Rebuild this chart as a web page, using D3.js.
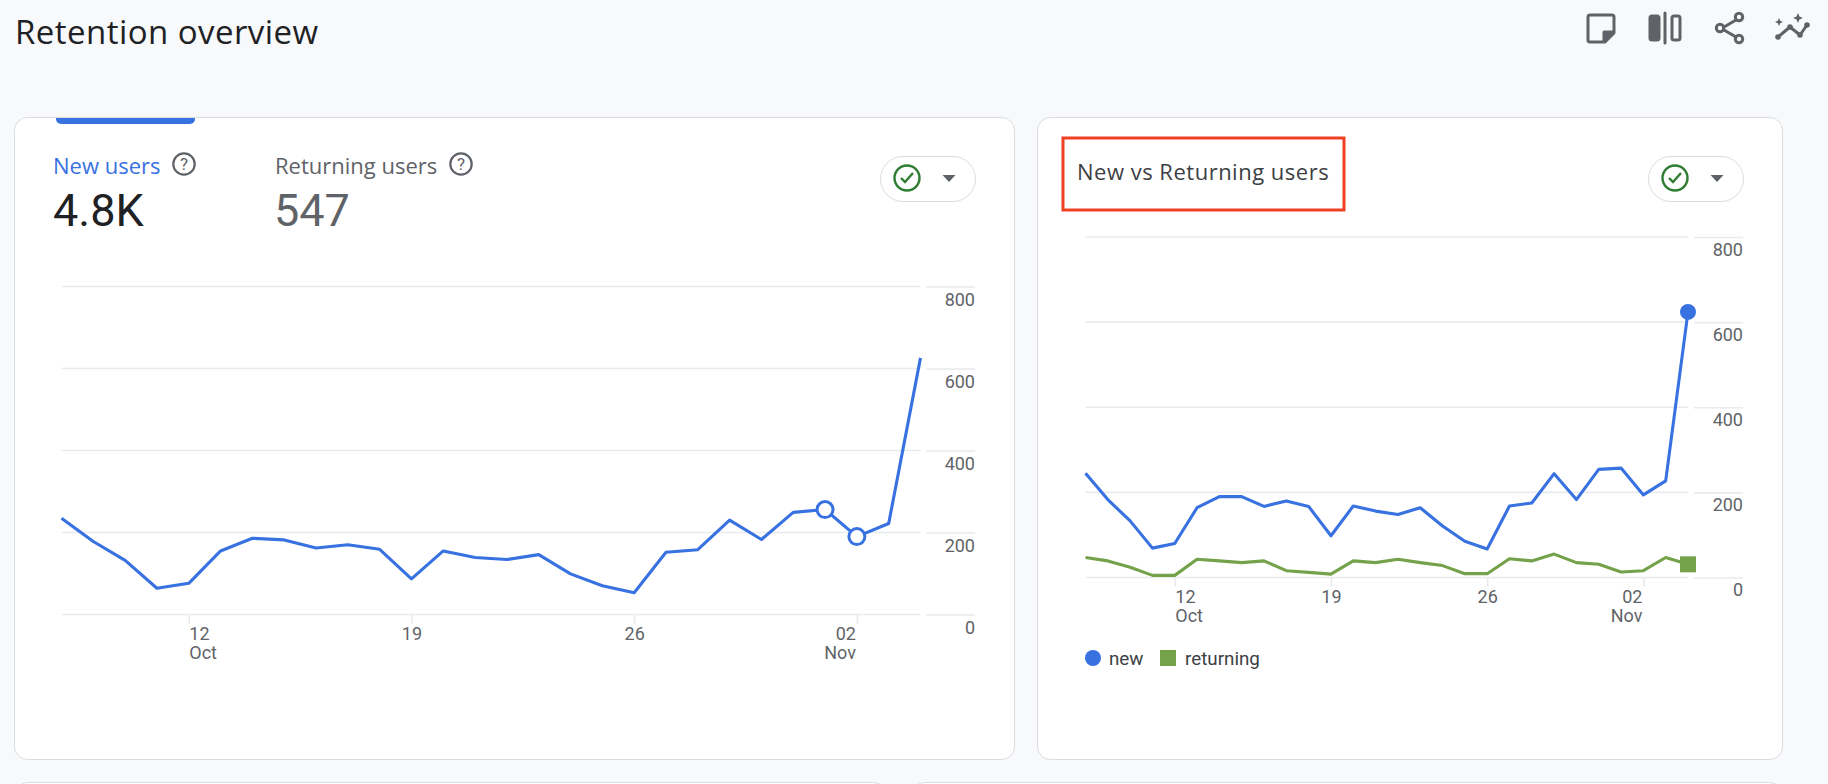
<!DOCTYPE html>
<html>
<head>
<meta charset="utf-8">
<title>Retention overview</title>
<script src="https://cdn.jsdelivr.net/npm/d3@7/dist/d3.min.js"></script>
<style>
  html, body { margin: 0; padding: 0; background: #f8f9fb; overflow: hidden; }
  svg { display: block; }
  text { font-family: Roboto, sans-serif; }
  .head { font-family: "Open Sans", Roboto, sans-serif; }
</style>
</head>
<body>
<svg id="page" width="1828" height="784"></svg>
<script>
// Daily series, 8 Oct to 4 Nov
const days = ["2025-10-08","2025-10-09","2025-10-10","2025-10-11","2025-10-12","2025-10-13","2025-10-14",
  "2025-10-15","2025-10-16","2025-10-17","2025-10-18","2025-10-19","2025-10-20","2025-10-21",
  "2025-10-22","2025-10-23","2025-10-24","2025-10-25","2025-10-26","2025-10-27","2025-10-28",
  "2025-10-29","2025-10-30","2025-10-31","2025-11-01","2025-11-02","2025-11-03","2025-11-04"];
const newUsersTrend = [235,178,132,64,76,155,186,182,162,170,159,87,155,139,134,146,99,70,53,152,158,230,183,249,256,190,222,626];
const newSeries = [245,183,133,69,80,164,190,190,167,180,167,98,168,156,148,164,121,85,67,168,175,244,183,254,257,194,227,624];
const returningSeries = [47,39,24,5,5,43,39,35,39,16,12,8,39,35,43,35,28,9,9,44,39,55,35,31,13,16,47,31];
const yTicks = [0,200,400,600,800];
const xTickDays = ["2025-10-12","2025-10-19","2025-10-26","2025-11-02"];
const xTickLabels = ["12","19","26","02"];
const xMonthLabels = ["Oct","","","Nov"];
const highlightedDays = ["2025-11-01","2025-11-02"];
const legendNames = ["new","returning"];

const BLUE = "#3871e0", GREEN = "#74a24a", GRID = "#e8eaed", INK = "#5f6368", DARK = "#202124";
const parse = d3.utcParse("%Y-%m-%d");
const svg = d3.select("#page");

// Cards
const cards = [
  [14,117,1000,642],[1037,117,745,642],[14,782,872,60],[911,782,871,60]
];
svg.selectAll("rect.card").data(cards).join("rect").attr("class","card")
  .attr("x",d=>d[0]+.5).attr("y",d=>d[1]+.5).attr("width",d=>d[2]).attr("height",d=>d[3])
  .attr("rx",13).attr("fill","#fff").attr("stroke","#dadce0");

// Page heading
svg.append("text").attr("class","head").attr("x",15).attr("y",44)
  .attr("font-size",33).attr("letter-spacing",.45).attr("fill",DARK).text("Retention overview");

// Toolbar icons
const tools = svg.append("g").attr("fill","none").attr("stroke",INK).attr("stroke-width",3)
  .attr("stroke-linejoin","round").attr("stroke-linecap","round");
tools.append("path").attr("d","M1605 42H1590a2 2 0 0 1-2-2V17a2 2 0 0 1 2-2H1612a2 2 0 0 1 2 2V33Z");
tools.append("path").attr("d","M1604 41V32H1613Z").attr("fill",INK);
tools.append("rect").attr("x",1650).attr("y",16).attr("width",9).attr("height",24).attr("rx",2).attr("fill",INK);
tools.append("path").attr("d","M1665 13V43");
tools.append("rect").attr("x",1672).attr("y",16).attr("width",8).attr("height",24).attr("rx",2);
tools.append("path").attr("d","M1736 20L1724 27M1724 30L1736 37");
[[1739,17],[1720,28],[1739,39]].forEach(c=>tools.append("circle").attr("cx",c[0]).attr("cy",c[1]).attr("r",3.7));
tools.append("path").attr("d","M1778 37L1790 27L1800 35L1807 25");
[[1778,37],[1790,27],[1800,35],[1807,25]].forEach(c=>tools.append("circle").attr("cx",c[0]).attr("cy",c[1]).attr("r",2.8).attr("fill",INK).attr("stroke","none"));
[[1779,22,4],[1798,18,5]].forEach(s=>tools.append("path")
  .attr("d",`M${s[0]} ${s[1]-s[2]}L${s[0]+s[2]*.3} ${s[1]-s[2]*.3}L${s[0]+s[2]} ${s[1]}L${s[0]+s[2]*.3} ${s[1]+s[2]*.3}L${s[0]} ${s[1]+s[2]}L${s[0]-s[2]*.3} ${s[1]+s[2]*.3}L${s[0]-s[2]} ${s[1]}L${s[0]-s[2]*.3} ${s[1]-s[2]*.3}Z`)
  .attr("fill",INK).attr("stroke","none"));

// Status pill with a check mark and a caret
function statusPill(x, w, checkX, caretX) {
  const g = svg.append("g");
  g.append("rect").attr("x",x+.5).attr("y",156.5).attr("width",w).attr("height",45).attr("rx",22.5)
    .attr("fill","#fff").attr("stroke","#dadce0");
  g.append("circle").attr("cx",checkX).attr("cy",178).attr("r",12.5).attr("fill","none")
    .attr("stroke","#2e7d32").attr("stroke-width",2.4);
  g.append("path").attr("d",`M${checkX-6} ${178}L${checkX-2} ${182}L${checkX+6} ${173}`)
    .attr("fill","none").attr("stroke","#2e7d32").attr("stroke-width",2.4);
  g.append("path").attr("d",`M${caretX-6.5} 175H${caretX+6.5}L${caretX} 182Z`).attr("fill",INK);
}
statusPill(880,95,907,949);
statusPill(1648,95,1675,1717);

// Help mark beside a scorecard label
function helpMark(cx, cy) {
  const g = svg.append("g");
  g.append("circle").attr("cx",cx).attr("cy",cy).attr("r",10.7).attr("fill","none")
    .attr("stroke",INK).attr("stroke-width",2.2);
  g.append("text").attr("x",cx).attr("y",cy+6).attr("text-anchor","middle")
    .attr("font-size",17).attr("fill",INK).text("?");
}

// Scorecard tab and headline numbers
svg.append("path").attr("d","M56 118H195V119a5 5 0 0 1-5 5H61a5 5 0 0 1-5-5Z").attr("fill",BLUE);
svg.append("text").attr("class","head").attr("x",53).attr("y",174).attr("font-size",22).attr("fill",BLUE).text("New users");
helpMark(184,164);
svg.append("text").attr("class","head").attr("x",275).attr("y",174).attr("font-size",22).attr("fill",INK).text("Returning users");
helpMark(461,164);
svg.append("text").attr("x",53).attr("y",226).attr("font-size",45).attr("fill",DARK).text("4.8K");
svg.append("text").attr("x",274).attr("y",226).attr("font-size",45).attr("fill",INK).text("547");

// Highlighted card title
svg.append("rect").attr("x",1063).attr("y",138).attr("width",281).attr("height",72)
  .attr("fill","none").attr("stroke","#ee4022").attr("stroke-width",3);
svg.append("text").attr("class","head").attr("x",1077).attr("y",180).attr("font-size",22)
  .attr("letter-spacing",.5).attr("font-weight",500).attr("fill","#3c4043").text("New vs Returning users");

// One line panel: grid and axes come from the scales, lines from the series
function linePanel(o) {
  const dates = days.map(parse);
  const x = d3.scaleUtc().domain(d3.extent(dates)).range([o.x0,o.x1]);
  const y = d3.scaleLinear().domain([0,800]).range([o.y0,o.y800]);
  const g = svg.append("g");

  // Horizontal rules: plot part, and the short part above the value labels
  const yAxis = d3.axisRight(y).tickValues(yTicks).tickSize(o.labelEnd-o.x1-6).tickPadding(0);
  const ya = g.append("g").attr("transform",`translate(${o.x1+6},0)`).call(yAxis);
  ya.select(".domain").remove();
  ya.selectAll("line").attr("stroke",GRID).attr("stroke-width",1.6);
  ya.selectAll("text").attr("x",o.labelEnd-o.x1-6).attr("dy",0).attr("y",o.labelDy)
    .attr("text-anchor","end").attr("font-size",18).attr("fill",INK).attr("font-family","Roboto");
  g.selectAll("line.rule").data(yTicks).join("line").attr("class","rule")
    .attr("x1",o.x0).attr("x2",o.x1).attr("y1",y).attr("y2",y)
    .attr("stroke",GRID).attr("stroke-width",1.6);

  // Date axis: first label runs right of its tick, last label ends just before it
  const tickDates = xTickDays.map(parse);
  const xAxis = d3.axisBottom(x).tickValues(tickDates).tickSize(9).tickFormat((d,i)=>xTickLabels[i]);
  const xa = g.append("g").attr("transform",`translate(0,${o.y0})`).call(xAxis);
  xa.select(".domain").remove();
  xa.selectAll("line").attr("stroke",GRID).attr("stroke-width",1.6);
  xa.selectAll("text").attr("dy",0).attr("y",o.xLabelDy).attr("font-size",18).attr("fill",INK)
    .attr("font-family","Roboto").attr("x",(d,i)=>i===3?-1.5:0)
    .attr("text-anchor",(d,i)=>i===0?"start":i===3?"end":"middle");
  xa.selectAll(".tick").append("text").attr("y",o.xLabelDy+19).attr("font-size",18).attr("fill",INK)
    .attr("font-family","Roboto").attr("x",(d,i)=>i===3?-1.5:0).attr("text-anchor",(d,i)=>i===0?"start":"end")
    .text((d,i)=>xMonthLabels[i]);

  const line = d3.line().x((d,i)=>x(dates[i])).y(d=>y(d));
  o.series.forEach(s=>{
    g.append("path").attr("d",line(s.values)).attr("fill","none").attr("stroke",s.color)
      .attr("stroke-width",3.1).attr("stroke-linejoin","round");
  });
  return {g,x,y,dates};
}

// New users trend panel with its two hollow markers
const trend = linePanel({x0:61.5,x1:920.5,y0:614.5,y800:286.5,labelEnd:975,labelDy:18.7,xLabelDy:25.5,
  series:[{values:newUsersTrend,color:BLUE}]});
trend.g.selectAll("circle.mark").data(highlightedDays).join("circle").attr("class","mark")
  .attr("cx",d=>trend.x(parse(d))).attr("cy",d=>trend.y(newUsersTrend[days.indexOf(d)]))
  .attr("r",8).attr("fill","#fff").attr("stroke",BLUE).attr("stroke-width",3);

// New vs returning panel with end markers and legend
const compare = linePanel({x0:1085.5,x1:1688,y0:577.5,y800:237,labelEnd:1743,labelDy:18.3,xLabelDy:25.5,
  series:[{values:returningSeries,color:GREEN},{values:newSeries,color:BLUE}]});
const lastX = compare.x(compare.dates[compare.dates.length-1]);
compare.g.append("circle").attr("cx",lastX).attr("cy",compare.y(newSeries[newSeries.length-1])).attr("r",8).attr("fill",BLUE);
compare.g.append("rect").attr("x",lastX-8).attr("y",compare.y(returningSeries[returningSeries.length-1])-8)
  .attr("width",16).attr("height",16).attr("fill",GREEN);

const legend = svg.append("g");
legend.append("circle").attr("cx",1093).attr("cy",658).attr("r",8).attr("fill",BLUE);
legend.append("rect").attr("x",1160).attr("y",650).attr("width",16).attr("height",16).attr("fill",GREEN);
legend.selectAll("text").data(legendNames).join("text")
  .attr("x",(d,i)=>i?1185:1109).attr("y",665).attr("font-size",18.8).attr("fill","#3c4043").text(d=>d);
</script>
</body>
</html>
